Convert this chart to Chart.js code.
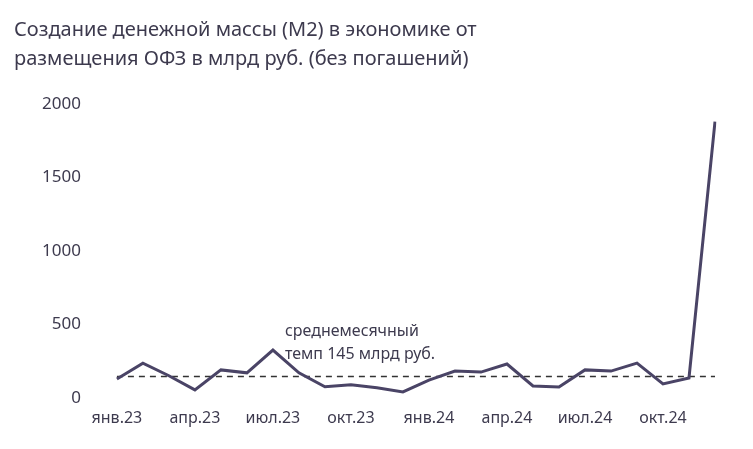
<!DOCTYPE html>
<html><head><meta charset="utf-8">
<script src="https://cdn.jsdelivr.net/npm/chart.js@4"></script>
<style>html,body{margin:0;background:#fff}#w{width:753px;height:449px}</style>
</head><body><div id="w"><canvas id="c"></canvas></div>
<script>
const months=["янв.23","фев.23","мар.23","апр.23","май.23","июн.23","июл.23","авг.23","сен.23","окт.23","ноя.23","дек.23","янв.24","фев.24","мар.24","апр.24","май.24","июн.24","июл.24","авг.24","сен.24","окт.24","ноя.24","дек.24"];
const m2=[128,236,150,54,190,170,325,170,75,88,68,40,120,182,175,230,81,74,190,182,236,95,135,1880];
const avgValue=145;
const avg=months.map(()=>avgValue);
const yTicks=[0,500,1000,1500,2000];
const font="'Noto Sans', sans-serif";
const note={id:'note',afterDatasetsDraw(ch){const c=ch.ctx,x=ch.scales.x,y=ch.scales.y;c.save();c.font="16px "+font;c.fillStyle="#3d3a4e";c.textBaseline="alphabetic";
const px=x.getPixelForValue(7)-14;c.fillText("среднемесячный",px,y.getPixelForValue(145)-40);c.fillText("темп 145 млрд руб.",px,y.getPixelForValue(145)-17);c.restore();}};
new Chart(document.getElementById('c'),{type:'line',
data:{labels:months,datasets:[
{data:m2,borderColor:'#4a4466',borderWidth:3,pointRadius:0,tension:0},
{data:avg,borderColor:'#333',borderWidth:1.3,borderDash:[6,5],pointRadius:0}]},
options:{responsive:true,maintainAspectRatio:false,animation:false,
layout:{padding:{left:14,right:38,top:6,bottom:18}},
plugins:{legend:{display:false},tooltip:{enabled:false},
title:{display:true,align:'start',text:["Создание денежной массы (М2) в экономике от","размещения ОФЗ в млрд руб. (без погашений)"],color:'#3d3a4e',font:{family:font,size:20,weight:'normal',lineHeight:1.45},padding:{top:10,bottom:30}}},
scales:{x:{grid:{display:false},border:{display:false},ticks:{autoSkip:false,maxRotation:0,color:'#3d3a4e',font:{family:font,size:16},callback:(v,i)=>i%3===0?months[i]:''}},
y:{min:0,max:2000,afterBuildTicks:a=>{a.ticks=yTicks.map(v=>({value:v}))},grid:{display:false},border:{display:false},ticks:{color:'#3d3a4e',font:{family:font,size:17},padding:28,callback:v=>String(v)}}}},
plugins:[note]});
</script></body></html>
